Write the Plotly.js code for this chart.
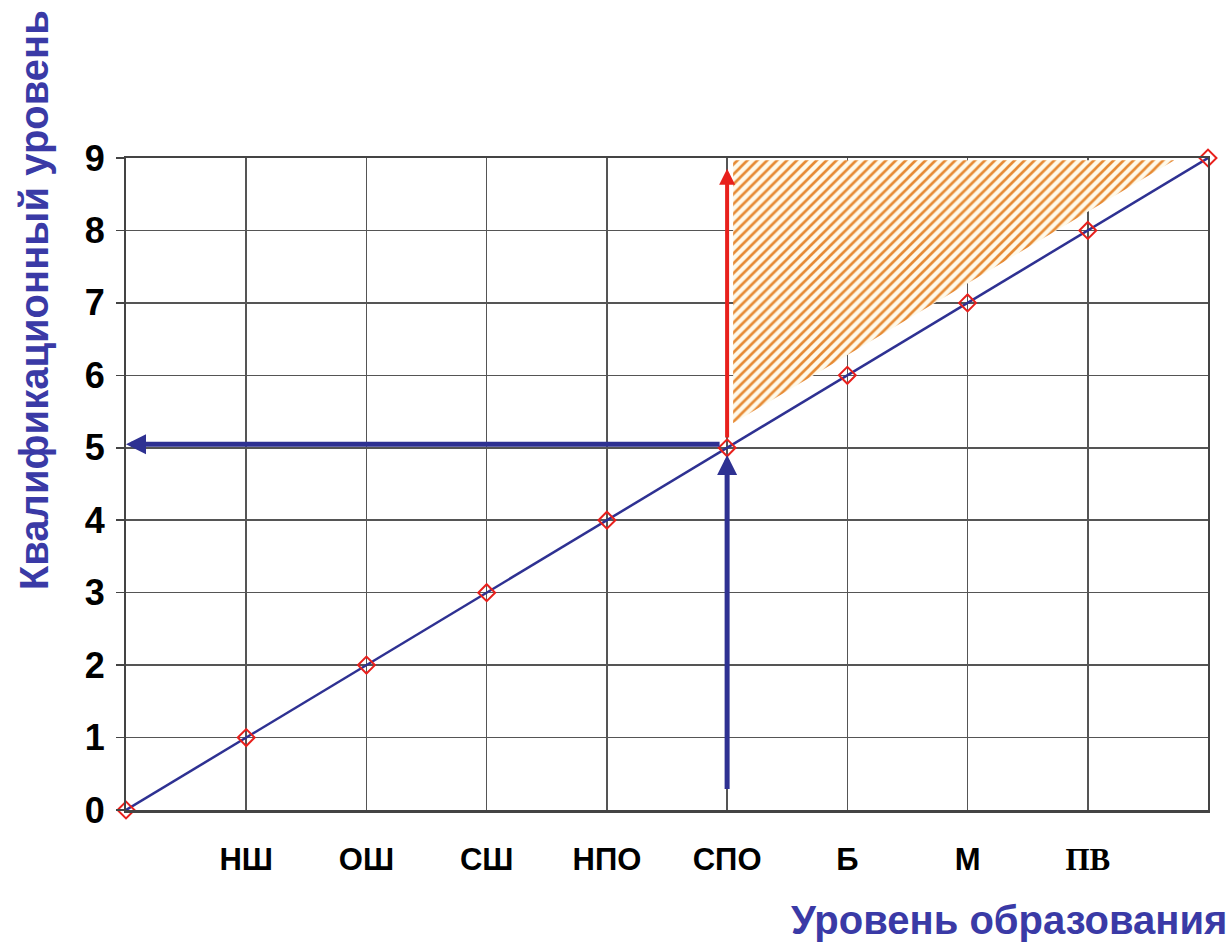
<!DOCTYPE html>
<html><head><meta charset="utf-8">
<script src="https://cdn.plot.ly/plotly-3.0.1.min.js"></script>
<style>html,body{margin:0;padding:0;background:#fff}</style>
</head><body><div id="chart" style="width:1230px;height:947px"></div>
<script>
// ---- data ----
const eduLevels = [0, 1, 2, 3, 4, 5, 6, 7, 8, 9];
const qualLevels = [0, 1, 2, 3, 4, 5, 6, 7, 8, 9];
const eduTickVals = [1, 2, 3, 4, 5, 6, 7, 8];
const eduTickText = ["НШ", "ОШ", "СШ", "НПО", "СПО", "Б", "М", "ПВ"];
const qualTickVals = [0, 1, 2, 3, 4, 5, 6, 7, 8, 9];
const zoneX = [5.05, 8.72, 5.05, 5.05];
const zoneY = [8.97, 8.97, 5.34, 8.97];
const blueUpArrow = {x: [5, 5], y: [0.27, 4.9]};
const blueLeftArrow = {x: [4.95, 0.0], y: [5.05, 5.05]};
const redUpArrow = {x: [5, 5], y: [5.12, 8.85]};

const navy = "#2e3192", red = "#e8201c", titleBlue = "#3a3aa6";
const fontMain = "Liberation Sans, Arial, sans-serif";

const traces = [
  {
    x: zoneX, y: zoneY, mode: "lines", fill: "toself",
    line: {width: 0, color: "rgba(0,0,0,0)"},
    fillcolor: "rgba(255,255,255,0)",
    fillpattern: {shape: "/", fgcolor: "#e68a34", bgcolor: "#fffaea", size: 7, solidity: 0.38},
    hoverinfo: "skip", showlegend: false
  },
  {
    x: eduLevels, y: qualLevels, mode: "lines+markers",
    line: {color: navy, width: 2.5},
    marker: {symbol: "diamond-open", size: 13, color: red, line: {width: 2, color: red}},
    cliponaxis: false, showlegend: false
  }
];

function arrow(a, color, w) {
  return {x: a.x[1], y: a.y[1], ax: a.x[0], ay: a.y[0], xref: "x", yref: "y", axref: "x", ayref: "y",
    showarrow: true, arrowhead: 2, arrowsize: 0.8, arrowwidth: w, arrowcolor: color, text: ""};
}

const annotations = [
  arrow(blueUpArrow, navy, 5), arrow(blueLeftArrow, navy, 5), arrow(redUpArrow, red, 4),
  {text: "<b>Квалификационный уровень</b>", xref: "paper", yref: "paper", x: -0.085, y: 0.782,
   xanchor: "center", yanchor: "middle", textangle: -90, showarrow: false,
   font: {family: fontMain, size: 40, color: titleBlue}},
  {text: "<b>Уровень образования</b>", xref: "paper", yref: "paper", x: 1.019, y: -0.168,
   xanchor: "right", yanchor: "middle", showarrow: false,
   font: {family: fontMain, size: 40, color: titleBlue}}
];

const ticktext = eduTickText.map(t => t === "ПВ"
  ? '<span style="font-family:Liberation Serif, Times New Roman, serif"><b>' + t + '</b></span>'
  : '<b>' + t + '</b>');

const layout = {
  width: 1230, height: 947,
  margin: {l: 126, r: 22, t: 158, b: 137},
  paper_bgcolor: "#fff", plot_bgcolor: "#fff",
  showlegend: false,
  xaxis: {
    range: [0, 9], tickmode: "array", tickvals: eduTickVals, ticktext: ticktext,
    ticks: "", showgrid: true, gridcolor: "#555", gridwidth: 1.5,
    showline: true, linecolor: "#444", linewidth: 2.5, mirror: true,
    zeroline: false, ticklabelstandoff: 20,
    tickfont: {family: fontMain, size: 31, color: "#000"}
  },
  yaxis: {
    range: [0, 9], tickmode: "array", tickvals: qualTickVals,
    ticks: "outside", ticklen: 8, tickcolor: "#444", tickwidth: 1.5,
    showgrid: true, gridcolor: "#555", gridwidth: 1.5,
    showline: true, linecolor: "#444", linewidth: 2, mirror: true,
    zeroline: false, ticklabelstandoff: 4,
    tickfont: {family: fontMain, size: 36, color: "#000", weight: "bold"}
  },
  annotations: annotations
};

Plotly.newPlot("chart", traces, layout, {displayModeBar: false, staticPlot: true});
</script></body></html>
